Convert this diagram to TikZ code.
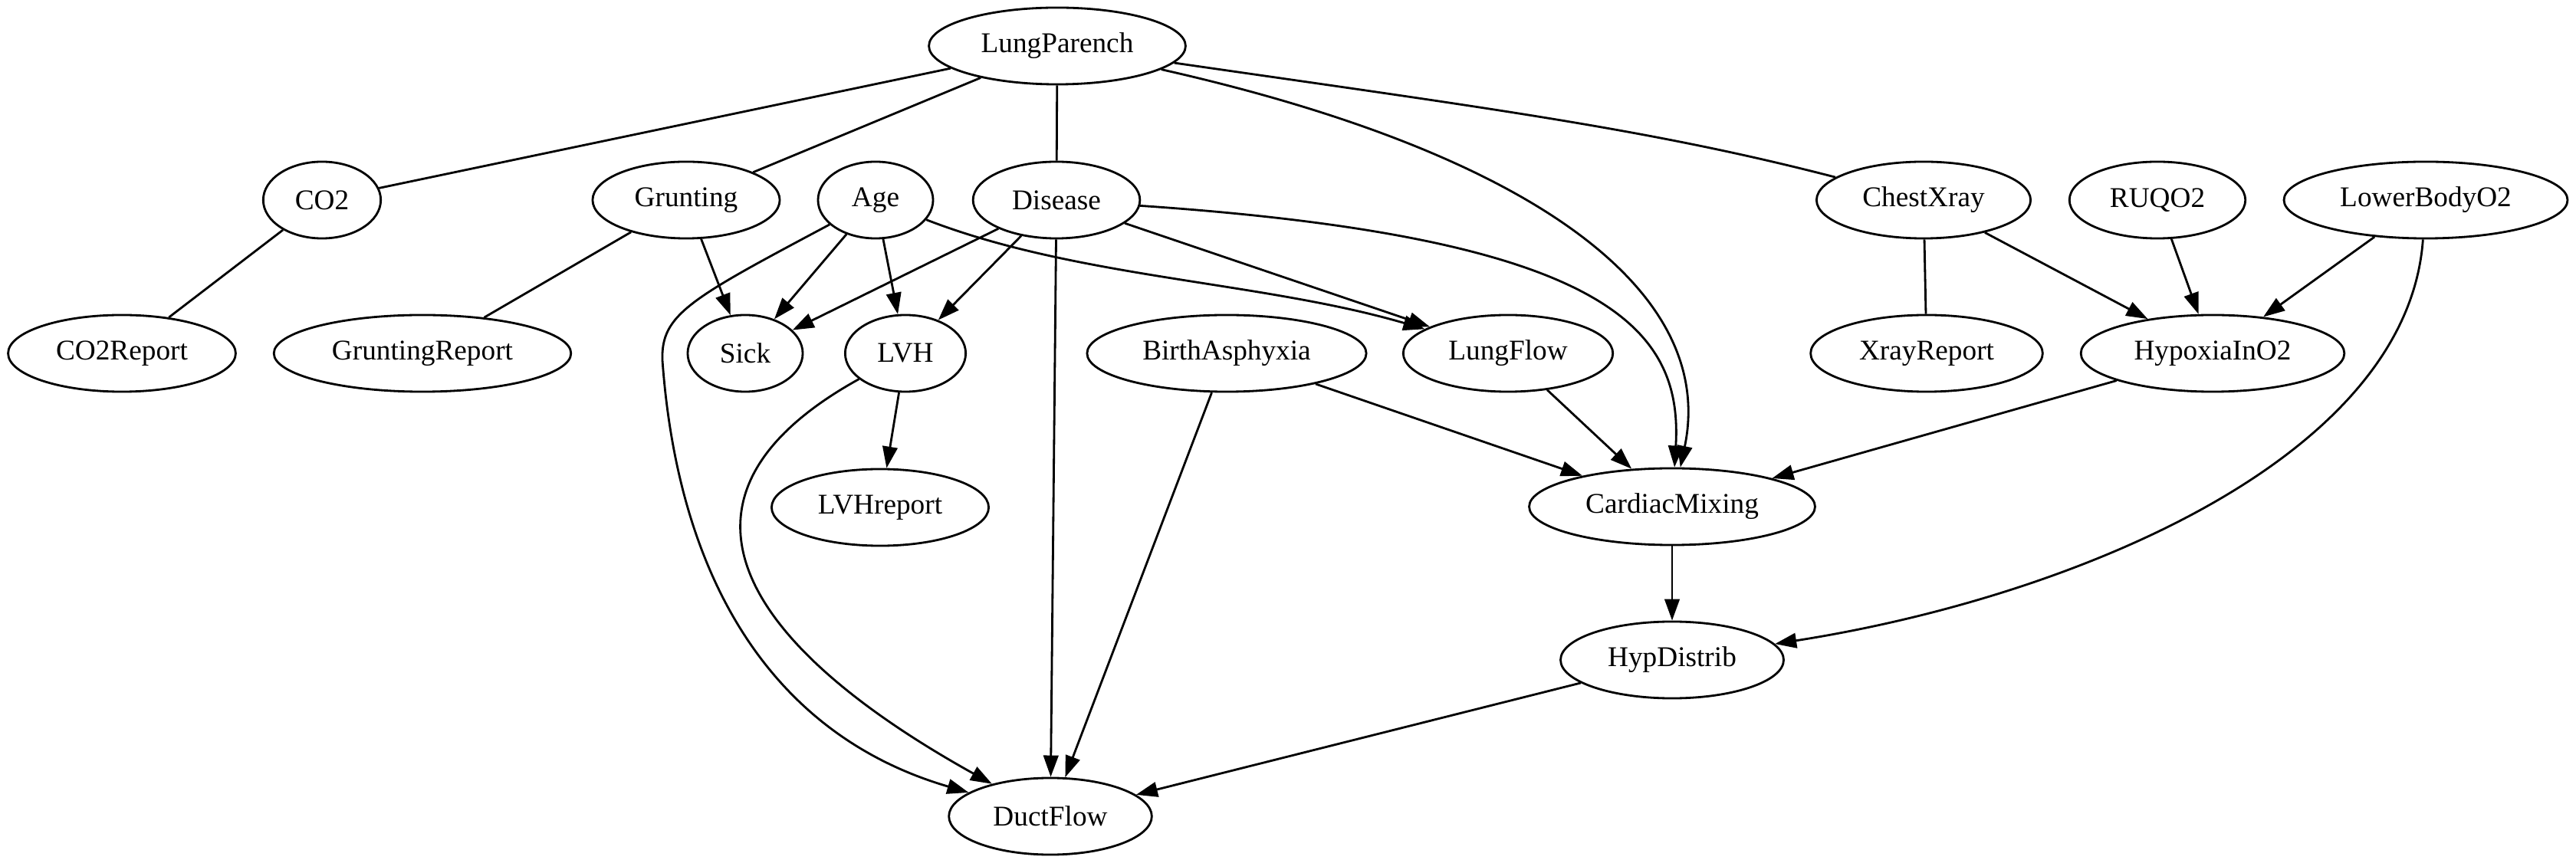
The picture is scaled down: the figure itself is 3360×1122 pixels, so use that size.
\documentclass[tikz,border=0pt]{standalone}
\usepackage{fontspec}
\setmainfont{Liberation Serif}
\usetikzlibrary{arrows.meta,shapes.geometric}

\begin{document}
\begin{tikzpicture}[
	x=0.01cm, y=-0.01cm,
	>={Triangle[length=2.8mm,width=1.95mm]},
	line width=0.8pt,
	var/.style={
		ellipse,
		draw,
		inner xsep=1.9mm,
		inner ysep=0pt,
		minimum width=1.5cm,
		minimum height=1cm,
		font=\fontsize{10.6}{12}\selectfont
	}
	]
	\useasboundingbox (0,0) rectangle (3360,1122);
	
	\node[var] (lung) at (1379,60) {LungParench};
	
	\node[var] (co2) at (420,261) {CO2};
	\node[var] (grunt) at (895,261) {Grunting};
	\node[var] (age) at (1142,261) {Age};
	\node[var] (disease) at (1378,261) {Disease};
	\node[var] (xray) at (2509,261) {ChestXray};
	\node[var] (ruq) at (2814,261) {RUQO2};
	\node[var] (lower) at (3164,261) {LowerBodyO2};
	
	\node[var] (co2rep) at (159,461) {CO2Report};
	\node[var] (gruntrep) at (551,461) {GruntingReport};
	\node[var] (sick) at (972,461) {Sick};
	\node[var] (lvh) at (1181,461) {LVH};
	\node[var] (birth) at (1600,461) {BirthAsphyxia};
	\node[var] (lungflow) at (1967,461) {LungFlow};
	\node[var] (xrayrep) at (2513,461) {XrayReport};
	\node[var] (hypoxia) at (2886,461) {HypoxiaInO2};
	
	\node[var] (lvhrep) at (1148,662) {LVHreport};
	\node[var] (mixing) at (2181,661) {CardiacMixing};
	\node[var] (hypdist) at (2181,861) {HypDistrib};
	\node[var] (duct) at (1370,1065) {DuctFlow};
	
	% undirected links
	\draw (lung) -- (co2);
	\draw (lung) -- (grunt);
	\draw (lung) -- (disease);
	\draw (lung) .. controls (1940,141) and (2150,168) .. (xray);
	\draw (co2) -- (co2rep);
	\draw (grunt) -- (gruntrep);
	\draw (xray) -- (xrayrep);
	
	% directed links
	\draw[->] (lung) .. controls (2000,200) and (2240,380) .. (mixing);
	\draw[->] (grunt) -- (sick);
	\draw[->] (age) -- (sick);
	\draw[->] (age) -- (lvh);
	\draw[->] (age) .. controls (1405,363) and (1645,367) .. (lungflow);
	\draw[->] (age) .. controls (900,390) and (862,410) .. (864,470)
		.. controls (885,760) and (1010,960) .. (duct);
	\draw[->] (disease) -- (sick);
	\draw[->] (disease) -- (lvh);
	\draw[->] (disease) -- (lungflow);
	\draw[->] (disease) .. controls (2100,310) and (2195,430) .. (mixing);
	\draw[->] (disease) -- (duct);
	\draw[->] (xray) -- (hypoxia);
	\draw[->] (ruq) -- (hypoxia);
	\draw[->] (lower) -- (hypoxia);
	\draw[->] (lower) .. controls (3140,600) and (2700,780) .. (hypdist);
	\draw[->] (lvh) -- (lvhrep);
	\draw[->] (lvh) .. controls (847,646) and (960,837) .. (duct);
	\draw[->] (birth) -- (mixing);
	\draw[->] (birth) -- (duct);
	\draw[->] (lungflow) -- (mixing);
	\draw[->] (hypoxia) -- (mixing);
	\draw[->] (mixing) -- (hypdist);
	\draw[->] (hypdist) -- (duct);
\end{tikzpicture}
\end{document}
